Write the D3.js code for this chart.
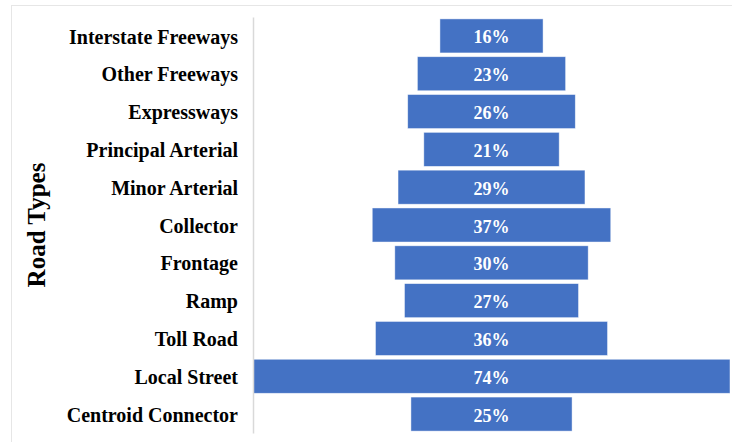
<!DOCTYPE html>
<html>
<head>
<meta charset="utf-8">
<script src="https://cdn.jsdelivr.net/npm/d3@7"></script>
<style>
  html, body { margin: 0; padding: 0; background: #fff; }
  svg { display: block; }
</style>
</head>
<body>
<svg id="chart" width="732" height="442"></svg>
<script>
// Share of each road type (percent)
const roadTypes = [
  "Interstate Freeways", "Other Freeways", "Expressways", "Principal Arterial",
  "Minor Arterial", "Collector", "Frontage", "Ramp", "Toll Road",
  "Local Street", "Centroid Connector"
];
const shares = [16, 23, 26, 21, 29, 37, 30, 27, 36, 74, 25];
const axisTitle = "Road Types";

const svg = d3.select("#chart");
const W = 732, H = 442;

// light chart-area frame
svg.append("rect")
  .attr("x", 11.5).attr("y", 5.5)
  .attr("width", W + 10).attr("height", H + 10)
  .attr("fill", "#fff").attr("stroke", "#e6e6e6").attr("stroke-width", 1);

const rows = roadTypes.map((t, i) => ({ type: t, value: shares[i] }));

const y = d3.scaleBand()
  .domain(roadTypes)
  .range([17, 433])
  .paddingInner(0.1)
  .paddingOuter(0.05);

// symmetric scale: each bar is centred on zero
const x = d3.scaleLinear().domain([-37, 37]).range([253, 730]);

const fontFamily = "'Liberation Serif', 'Times New Roman', serif";

// bars
svg.append("g").selectAll("rect")
  .data(rows)
  .join("rect")
  .attr("x", d => x(-d.value / 2))
  .attr("y", d => y(d.type))
  .attr("width", d => x(d.value / 2) - x(-d.value / 2))
  .attr("height", y.bandwidth())
  .attr("fill", "#4472c4")
  .attr("stroke", "#ffffff")
  .attr("stroke-opacity", 0.6)
  .attr("stroke-width", 0.75);

// value labels
svg.append("g").selectAll("text")
  .data(rows)
  .join("text")
  .attr("x", d => x(0))
  .attr("y", d => y(d.type) + y.bandwidth() / 2)
  .attr("dy", "0.42em")
  .attr("text-anchor", "middle")
  .attr("fill", "#ffffff")
  .attr("font-family", fontFamily)
  .attr("font-weight", "bold")
  .attr("font-size", 18)
  .text(d => d.value + "%");

// category axis
const axis = svg.append("g")
  .attr("transform", `translate(${x(-37)},0)`)
  .call(d3.axisLeft(y).tickSize(0).tickPadding(15));
axis.select(".domain").attr("stroke", "#d9d9d9").attr("stroke-width", 1.5);
axis.selectAll("text")
  .attr("dy", "0.38em")
  .attr("fill", "#000")
  .attr("font-family", fontFamily)
  .attr("font-weight", "bold")
  .attr("font-size", 20);

// axis title
svg.append("text")
  .attr("transform", `translate(45,225) rotate(-90)`)
  .attr("text-anchor", "middle")
  .attr("fill", "#000")
  .attr("font-family", fontFamily)
  .attr("font-weight", "bold")
  .attr("font-size", 25)
  .text(axisTitle);
</script>
</body>
</html>
